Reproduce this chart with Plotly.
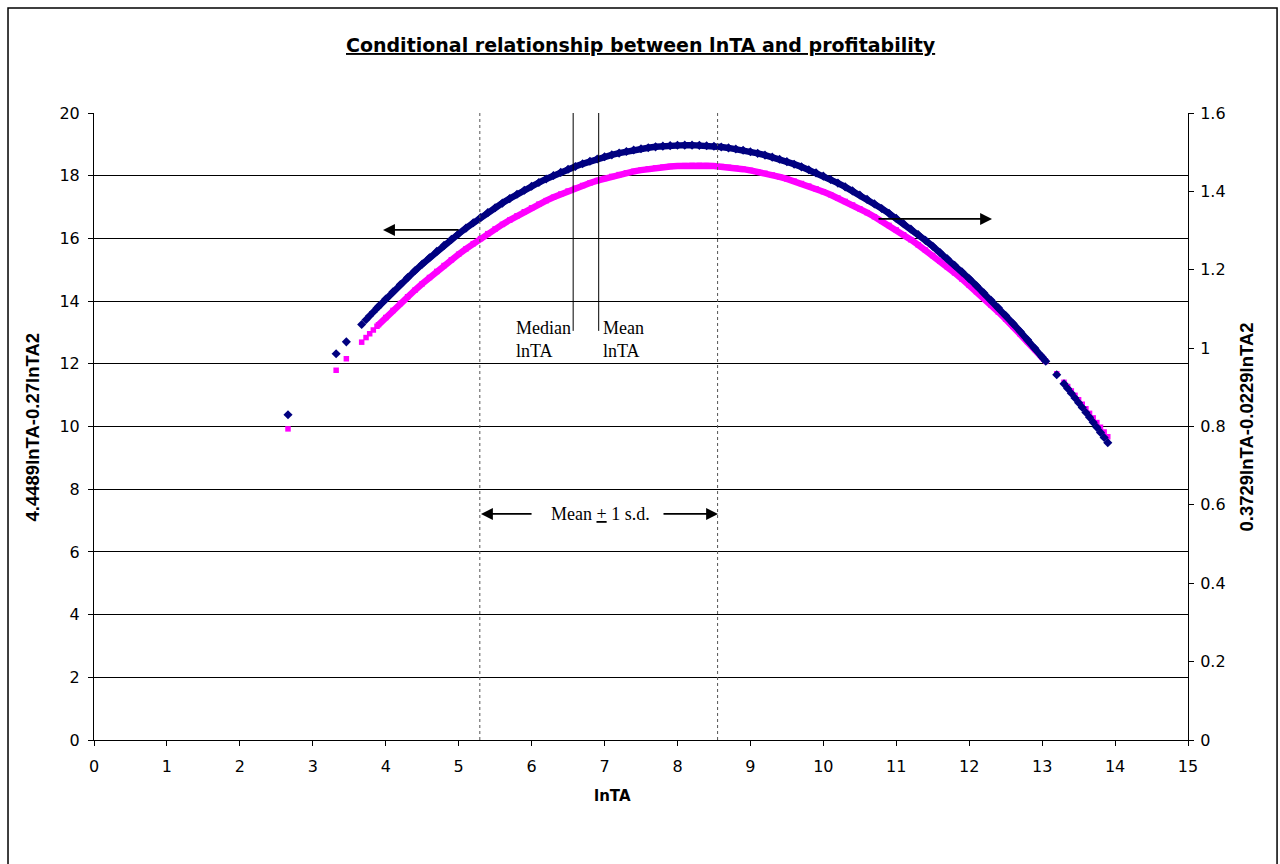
import plotly.graph_objects as go

# ---- data ----
x_sparse = [2.66, 3.32, 3.46, 3.67, 3.73, 3.78, 3.83, 3.88]
left_sparse = [9.924, 11.794, 12.161, 12.690, 12.837, 12.959, 13.078, 13.197]
right_sparse = [0.8299, 0.9856, 1.0160, 1.0601, 1.0723, 1.0824, 1.0923, 1.1022]

x_dense = [3.9, 4.0, 4.1, 4.2, 4.3, 4.4, 4.5, 4.6, 4.7, 4.8, 4.9, 5.0, 5.1, 5.2, 5.3,
           5.4, 5.5, 5.6, 5.7, 5.8, 5.9, 6.0, 6.1, 6.2, 6.3, 6.4, 6.5, 6.6, 6.7, 6.8,
           6.9, 7.0, 7.1, 7.2, 7.3, 7.4, 7.5, 7.6, 7.7, 7.8, 7.9, 8.0, 8.1, 8.2, 8.3,
           8.4, 8.5, 8.6, 8.7, 8.8, 8.9, 9.0, 9.1, 9.2, 9.3, 9.4, 9.5, 9.6, 9.7, 9.8,
           9.9, 10.0, 10.1, 10.2, 10.3, 10.4, 10.5, 10.6, 10.7, 10.8, 10.9, 11.0, 11.1,
           11.2, 11.3, 11.4, 11.5, 11.6, 11.7, 11.8, 11.9, 12.0, 12.1, 12.2, 12.3, 12.4,
           12.5, 12.6, 12.7, 12.8, 12.9, 13.0, 13.05]
left_dense = [13.244, 13.476, 13.702, 13.923, 14.138, 14.348, 14.553, 14.752, 14.946,
              15.134, 15.317, 15.495, 15.667, 15.833, 15.995, 16.151, 16.301, 16.447,
              16.586, 16.721, 16.850, 16.973, 17.092, 17.204, 17.312, 17.414, 17.510,
              17.602, 17.687, 17.768, 17.843, 17.912, 17.976, 18.035, 18.089, 18.137,
              18.179, 18.216, 18.248, 18.275, 18.296, 18.311, 18.321, 18.326, 18.326,
              18.320, 18.308, 18.291, 18.269, 18.242, 18.209, 18.170, 18.126, 18.077,
              18.022, 17.962, 17.897, 17.826, 17.750, 17.668, 17.581, 17.489, 17.391,
              17.288, 17.179, 17.065, 16.946, 16.821, 16.691, 16.555, 16.414, 16.268,
              16.116, 15.959, 15.796, 15.628, 15.455, 15.276, 15.092, 14.902, 14.707,
              14.507, 14.301, 14.090, 13.873, 13.651, 13.424, 13.191, 12.953, 12.709,
              12.460, 12.206, 12.076]
right_dense = [1.1060, 1.1252, 1.1439, 1.1622, 1.1800, 1.1974, 1.2143, 1.2308, 1.2468,
               1.2623, 1.2774, 1.2920, 1.3062, 1.3199, 1.3331, 1.3459, 1.3582, 1.3701,
               1.3815, 1.3925, 1.4030, 1.4130, 1.4226, 1.4317, 1.4404, 1.4486, 1.4563,
               1.4636, 1.4704, 1.4768, 1.4827, 1.4882, 1.4932, 1.4977, 1.5018, 1.5055,
               1.5086, 1.5113, 1.5136, 1.5154, 1.5167, 1.5176, 1.5180, 1.5180, 1.5175,
               1.5165, 1.5151, 1.5133, 1.5109, 1.5081, 1.5049, 1.5012, 1.4970, 1.4924,
               1.4873, 1.4818, 1.4758, 1.4694, 1.4625, 1.4551, 1.4473, 1.4390, 1.4303,
               1.4211, 1.4114, 1.4013, 1.3907, 1.3797, 1.3682, 1.3563, 1.3439, 1.3310,
               1.3177, 1.3039, 1.2897, 1.2750, 1.2598, 1.2442, 1.2281, 1.2116, 1.1946,
               1.1772, 1.1593, 1.1409, 1.1221, 1.1029, 1.0831, 1.0629, 1.0423, 1.0212,
               0.9996, 0.9776, 0.9664]

x_tail = [13.2, 13.3, 13.35, 13.4, 13.45, 13.5, 13.55, 13.6, 13.65, 13.7, 13.75, 13.8, 13.85, 13.9]
left_tail = [11.681, 11.410, 11.273, 11.134, 10.994, 10.853, 10.710, 10.566, 10.420,
             10.274, 10.126, 9.976, 9.825, 9.673]
right_tail = [0.9322, 0.9088, 0.8969, 0.8849, 0.8728, 0.8606, 0.8483, 0.8359, 0.8233,
              0.8106, 0.7978, 0.7849, 0.7719, 0.7588]

median_lnTA = 6.57
mean_lnTA = 6.92
sd_lnTA = 1.63

NAVY = "#000080"
MAGENTA = "#FF00FF"
SANS = "DejaVu Sans, Arial, sans-serif"
ARIAL = "Liberation Sans, Arial, sans-serif"
SERIF = "Liberation Serif, Times New Roman, serif"

fig = go.Figure()

# left-axis series (magenta squares)
fig.add_trace(go.Scatter(x=x_dense, y=left_dense, mode="lines",
                         line=dict(color=MAGENTA, width=6.5), yaxis="y", showlegend=False))
fig.add_trace(go.Scatter(x=x_sparse + x_dense + x_tail, y=left_sparse + left_dense + left_tail,
                         mode="markers", marker=dict(symbol="square", size=5.5, color=MAGENTA),
                         yaxis="y", showlegend=False))
# right-axis series (navy diamonds)
fig.add_trace(go.Scatter(x=x_dense, y=right_dense, mode="lines",
                         line=dict(color=NAVY, width=6.5), yaxis="y2", showlegend=False))
fig.add_trace(go.Scatter(x=x_sparse + x_dense + x_tail, y=right_sparse + right_dense + right_tail,
                         mode="markers", marker=dict(symbol="diamond", size=7, color=NAVY),
                         yaxis="y2", showlegend=False))

shapes = []
# mean +/- 1 s.d. dotted lines
for xv in (mean_lnTA - sd_lnTA, mean_lnTA + sd_lnTA):
    shapes.append(dict(type="line", xref="x", yref="y", x0=xv, x1=xv, y0=0, y1=20,
                       line=dict(color="#555555", width=1, dash="dot")))
# median / mean lines
for xv in (median_lnTA, mean_lnTA):
    shapes.append(dict(type="line", xref="x", yref="y", x0=xv, x1=xv, y0=13.05, y1=20,
                       line=dict(color="#000000", width=1)))
# outer chart border
shapes.append(dict(type="rect", xref="paper", yref="paper", x0=-0.0786, x1=1.0814,
                   y0=-0.22, y1=1.1675, line=dict(color="#000000", width=1.5)))

annotations = [
    dict(text="<b><u>Conditional relationship between lnTA and profitability</u></b>",
         xref="paper", yref="paper", x=0.5, y=1.108, showarrow=False,
         font=dict(family=SANS, size=19, color="black"), xanchor="center", yanchor="middle"),
    dict(text="<b>lnTA</b>", xref="paper", yref="paper", x=0.4744, y=-0.0893, showarrow=False,
         xanchor="center", yanchor="middle",
         font=dict(family=SANS, size=15, color="black")),
    dict(text="<b>4.4489lnTA-0.27lnTA2</b>", xref="paper", yref="paper", x=-0.0558, y=0.5,
         textangle=-90, showarrow=False, xanchor="center", yanchor="middle",
         font=dict(family=ARIAL, size=18.5, color="black")),
    dict(text="<b>0.3729lnTA-0.0229lnTA2</b>", xref="paper", yref="paper", x=1.0539, y=0.5,
         textangle=-90, showarrow=False, xanchor="center", yanchor="middle",
         font=dict(family=ARIAL, size=18.5, color="black")),
    dict(text="Median<br>lnTA", x=5.759, y=12.76, xref="x", yref="y", showarrow=False,
         xanchor="left", yanchor="middle", align="left",
         font=dict(family=SERIF, size=18, color="black")),
    dict(text="Mean<br>lnTA", x=6.953, y=12.76, xref="x", yref="y", showarrow=False,
         xanchor="left", yanchor="middle", align="left",
         font=dict(family=SERIF, size=18, color="black")),
    dict(text="Mean <u>+</u> 1 s.d.", x=6.95, y=7.21, xref="x", yref="y", showarrow=False,
         xanchor="center", yanchor="middle",
         font=dict(family=SERIF, size=18, color="black")),
]
arrow_style = dict(showarrow=True, arrowhead=2, arrowsize=1.4, arrowwidth=1.7,
                   arrowcolor="black", text="", xref="x", yref="y", axref="x", ayref="y")
for (hx, hy, tx, ty) in [(3.963, 16.27, 5.018, 16.27),
                         (12.313, 16.62, 10.736, 16.62),
                         (5.306, 7.21, 6.02, 7.21),
                         (8.556, 7.21, 7.788, 7.21)]:
    annotations.append(dict(x=hx, y=hy, ax=tx, ay=ty, **arrow_style))

tickfont = dict(family=SANS, size=16, color="black")
fig.update_layout(
    width=1280, height=864,
    margin=dict(l=94, r=92, t=113, b=124),
    paper_bgcolor="white", plot_bgcolor="white",
    font=dict(family=SANS, size=16, color="black"),
    xaxis=dict(range=[0, 15], dtick=1, tick0=0, showgrid=False, zeroline=False,
               showline=True, linecolor="black", linewidth=1, ticks="outside",
               ticklen=5, tickcolor="black", tickfont=tickfont, ticklabelstandoff=7),
    yaxis=dict(range=[0, 20], dtick=2, tick0=0, showgrid=True, gridcolor="#000000",
               gridwidth=1, zeroline=False, showline=True, linecolor="black",
               linewidth=1, ticks="outside", ticklen=5, tickcolor="black",
               tickfont=tickfont, ticklabelstandoff=5),
    yaxis2=dict(range=[0, 1.6], dtick=0.2, tick0=0, overlaying="y", side="right",
                showgrid=False, zeroline=False, showline=True, linecolor="black",
                linewidth=1, ticks="outside", ticklen=5, tickcolor="black",
                tickfont=tickfont, ticklabelstandoff=3),
    shapes=shapes, annotations=annotations,
)

fig.write_html("out.html")
